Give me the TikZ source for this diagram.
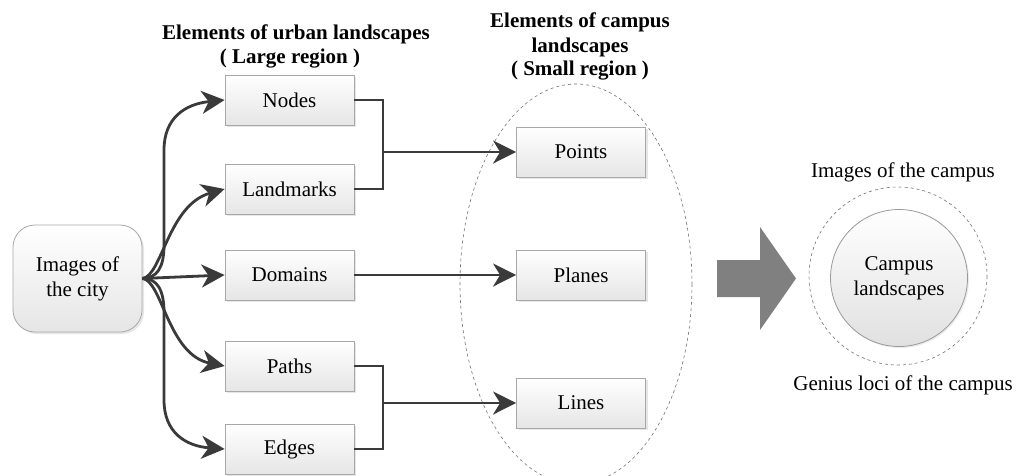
\documentclass[tikz,border=0pt]{standalone}
\usepackage{fontspec}
\setmainfont{Liberation Serif}
\usetikzlibrary{arrows.meta,shadows,calc}
\definecolor{linec}{HTML}{3A3A3A}
\definecolor{boxb}{HTML}{A8A8A8}
\begin{document}
\begin{tikzpicture}[x=1pt,y=-1pt,
  txt/.style={font=\fontsize{21}{25}\selectfont, align=center, inner sep=0pt},
  ttl/.style={font=\fontsize{21}{25}\selectfont\bfseries, align=center, inner sep=0pt},
  box/.style={draw=boxb, line width=0.8pt, top color=white, bottom color=black!10,
     minimum width=129pt, minimum height=50pt, inner sep=0pt,
     font=\fontsize{21}{25}\selectfont, align=center,
     drop shadow={opacity=0.2, shadow xshift=2pt, shadow yshift=-2pt}},
  cityb/.style={box, rounded corners=22pt, minimum height=107pt},
  conn/.style={draw=linec, line width=2.8pt, -{Stealth[length=23pt,width=23pt,inset=7pt]}},
  plain/.style={draw=linec, line width=2.8pt}]
\useasboundingbox (0,0) rectangle (1019,475);

% titles
\node[ttl] (t1) at (296,34) {Elements of urban landscapes};
\node[ttl] (t2) at (290,59) {( Large region )};
\node[ttl] (t3) at (580,22) {Elements of campus};
\node[ttl] (t4) at (580,47) {landscapes};
\node[ttl] (t5) at (580,71) {( Small region )};

% dashed ellipse
\draw[dashed, draw=black!55, line width=0.6pt] (576,284) ellipse [x radius=116, y radius=200];

% boxes
\node[cityb] (city) at (77.5,278.5) {Images of\\the city};
\node[box] (nodes) at (289.5,100) {Nodes};
\node[box] (land) at (289.5,189) {Landmarks};
\node[box] (dom) at (289.5,275) {Domains};
\node[box] (paths) at (289.5,366) {Paths};
\node[box] (edges) at (289.5,449) {Edges};
\node[box] (points) at (581,152) {Points};
\node[box] (planes) at (581,275) {Planes};
\node[box] (lines) at (581,403) {Lines};

% curves from city
\draw[conn] (city.east) .. controls (157,278) and (164,268) .. (164,245)
   -- (164,150) .. controls (164,118) and (185,104) .. (nodes.west);
\draw[conn] (city.east) .. controls (162,276) and (168,205) .. (land.west);
\draw[conn] (city.east) -- (dom.west);
\draw[conn] (city.east) .. controls (162,280) and (168,355) .. (paths.west);
\draw[conn] (city.east) .. controls (157,278) and (164,290) .. (164,312)
   -- (164,400) .. controls (164,432) and (185,446) .. (edges.west);

% elbows
\coordinate (j1) at (383,152);
\coordinate (j2) at (383,403);
\draw[plain] (nodes.east) -- (383,100) -- (383,189) -- (land.east);
\draw[conn] (j1) -- (points.west);
\draw[conn] (dom.east) -- (planes.west);
\draw[plain] (paths.east) -- (383,366) -- (383,449) -- (edges.east);
\draw[conn] (j2) -- (lines.west);

% big arrow
\fill[black!50] (717,260) -- (760,260) -- (760,227) -- (796,278.5) -- (760,330) -- (760,297) -- (717,297) -- cycle;

% circles
\draw[dashed, draw=black!55, line width=0.6pt] (898,276) circle [radius=89];
\node[circle, draw=black!40, line width=0.8pt, top color=white, bottom color=black!12,
      minimum size=137pt, inner sep=0pt, txt,
      drop shadow={opacity=0.15, shadow xshift=1.5pt, shadow yshift=-1.5pt}] (campus) at (899,278) {Campus\\landscapes};
\node[txt] (img) at (903,172) {Images of the campus};
\node[txt] (gen) at (903,385) {Genius loci of the campus};
\end{tikzpicture}
\end{document}
